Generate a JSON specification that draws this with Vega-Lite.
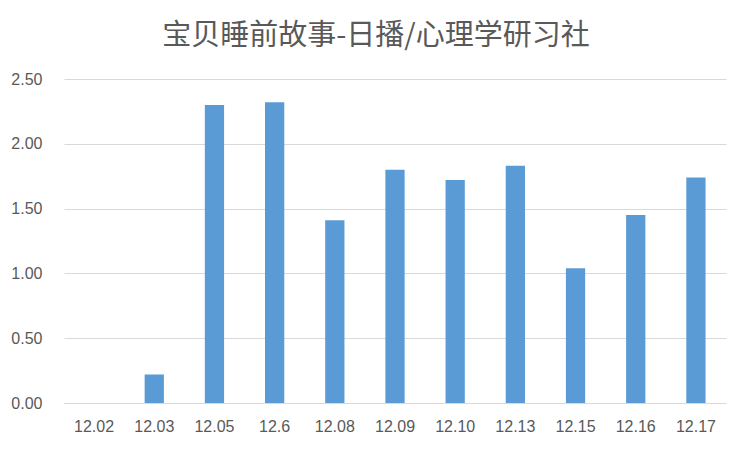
{
  "$schema": "https://vega.github.io/schema/vega-lite/v6.json",
  "width": 662,
  "height": 324,
  "autosize": {"type": "none"},
  "padding": {"left": 64, "top": 79, "right": 27, "bottom": 50},
  "background": "white",
  "title": {
    "text": "宝贝睡前故事-日播/心理学研习社",
    "font": "Noto Sans CJK SC",
    "fontSize": 29,
    "fontWeight": "normal",
    "color": "#595959",
    "anchor": "middle",
    "dx": -19,
    "offset": 20
  },
  "data": {
    "values": [
      {"date": "12.02", "value": 0},
      {"date": "12.03", "value": 0.22},
      {"date": "12.05", "value": 2.30},
      {"date": "12.6", "value": 2.32},
      {"date": "12.08", "value": 1.41},
      {"date": "12.09", "value": 1.80},
      {"date": "12.10", "value": 1.72},
      {"date": "12.13", "value": 1.83},
      {"date": "12.15", "value": 1.04},
      {"date": "12.16", "value": 1.45},
      {"date": "12.17", "value": 1.74}
    ]
  },
  "mark": {"type": "bar", "color": "#5b9bd5"},
  "encoding": {
    "x": {
      "field": "date",
      "type": "ordinal",
      "sort": null,
      "scale": {"paddingInner": 0.68, "paddingOuter": 0.34},
      "axis": {
        "title": null,
        "labelAngle": 0,
        "ticks": false,
        "domainColor": "#d9d9d9",
        "labelPadding": 15,
        "labelFont": "Liberation Sans",
        "labelFontSize": 16,
        "labelColor": "#595959"
      }
    },
    "y": {
      "field": "value",
      "type": "quantitative",
      "scale": {"domain": [0, 2.5]},
      "axis": {
        "title": null,
        "values": [0, 0.5, 1, 1.5, 2, 2.5],
        "format": ".2f",
        "domain": false,
        "ticks": false,
        "gridColor": "#d9d9d9",
        "labelPadding": 22,
        "labelFont": "Liberation Sans",
        "labelFontSize": 16,
        "labelColor": "#595959"
      }
    }
  },
  "config": {"view": {"stroke": null}}
}
